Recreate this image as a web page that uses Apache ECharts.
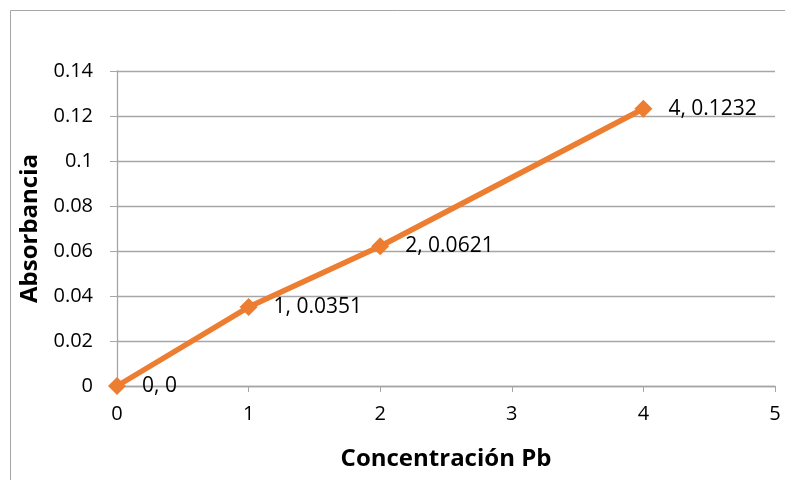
<!DOCTYPE html>
<html><head><meta charset="utf-8">
<script src="https://cdn.jsdelivr.net/npm/echarts@6/dist/echarts.min.js"></script>
<style>html,body{margin:0;padding:0;background:#fff}#c{width:785px;height:480px}</style>
</head><body><div id="c"></div>
<script>
const xValues = [0, 1, 2, 4];
const yValues = [0, 0.0351, 0.0621, 0.1232];
const pointLabels = ['0, 0', '1, 0.0351', '2, 0.0621', '4, 0.1232'];
const yTickLabels = ['0', '0.02', '0.04', '0.06', '0.08', '0.1', '0.12', '0.14'];
const xTickLabels = ['0', '1', '2', '3', '4', '5'];
const xName = 'Concentración Pb';
const yName = 'Absorbancia';

const font = '"Open Sans", sans-serif';
const chart = echarts.init(document.getElementById('c'));
chart.setOption({
  animation: false,
  backgroundColor: '#fff',
  graphic: [{
    type: 'polyline', silent: true,
    shape: { points: [[10.5, 480], [10.5, 10.5], [785, 10.5]] },
    style: { stroke: '#a6a6a6', lineWidth: 1, fill: null }
  }],
  grid: { left: 117, right: 10, top: 71, bottom: 94 },
  xAxis: {
    type: 'value', min: 0, max: 5, interval: 1,
    name: xName, nameLocation: 'middle', nameGap: 61,
    nameTextStyle: { fontFamily: font, fontSize: 24, fontWeight: 'bold', color: '#000' },
    axisLine: { show: true, lineStyle: { color: '#a6a6a6', width: 1.3 } },
    axisTick: { show: true, length: 6, lineStyle: { color: '#a6a6a6' } },
    axisLabel: { fontFamily: font, fontSize: 20, color: '#000', margin: 18,
      formatter: (v) => xTickLabels[Math.round(v)] },
    splitLine: { show: false }
  },
  yAxis: {
    type: 'value', min: 0, max: 0.14, interval: 0.02,
    name: yName, nameLocation: 'middle', nameGap: 71, nameRotate: 90,
    nameTextStyle: { fontFamily: font, fontSize: 24, fontWeight: 'bold', color: '#000' },
    axisLine: { show: true, lineStyle: { color: '#a6a6a6', width: 1.3 } },
    axisTick: { show: true, length: 7, lineStyle: { color: '#a6a6a6' } },
    axisLabel: { fontFamily: font, fontSize: 20, color: '#000', margin: 24,
      formatter: (v) => yTickLabels[Math.round(v / 0.02)] },
    splitLine: { show: true, lineStyle: { color: '#a6a6a6', width: 1.3 } }
  },
  series: [{
    type: 'line',
    data: xValues.map((x, i) => [x, yValues[i]]),
    symbol: 'diamond', symbolSize: 18,
    itemStyle: { color: '#ED7D31' },
    lineStyle: { color: '#ED7D31', width: 5.5 },
    label: { show: true, position: 'right', distance: 16, fontFamily: font, fontSize: 21, color: '#000',
      formatter: (p) => pointLabels[p.dataIndex] }
  }]
});
</script></body></html>
